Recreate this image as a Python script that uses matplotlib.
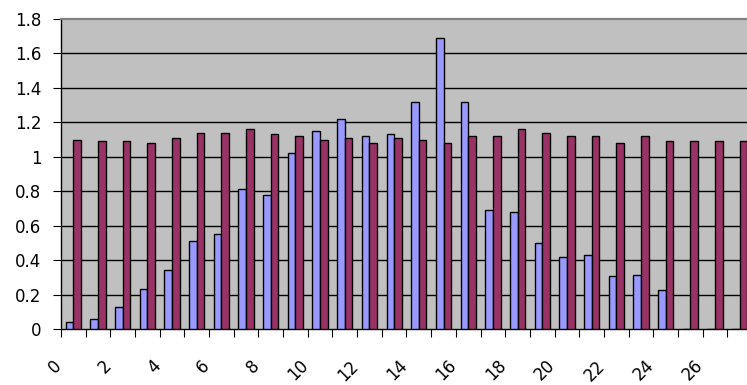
import numpy as np
import matplotlib.pyplot as plt

plt.rcParams['font.family'] = ['DejaVu Sans']

# values
blue_vals = [0.04, 0.06, 0.13, 0.23, 0.345, 0.51, 0.55, 0.81, 0.78, 1.02,
             1.15, 1.22, 1.12, 1.13, 1.32, 1.69, 1.32, 0.69, 0.68, 0.50,
             0.42, 0.43, 0.305, 0.315, 0.225, 0, 0, 0]
red_vals = [1.10, 1.09, 1.09, 1.08, 1.11, 1.14, 1.14, 1.16, 1.13, 1.12,
            1.10, 1.11, 1.08, 1.11, 1.10, 1.08, 1.12, 1.12, 1.16, 1.14,
            1.12, 1.12, 1.08, 1.12, 1.09, 1.09, 1.09, 1.09]
x_labels = [str(i) for i in range(0, 27, 2)]
y_ticks = [0, 0.2, 0.4, 0.6, 0.8, 1.0, 1.2, 1.4, 1.6, 1.8]
y_labels = ['0', '0.2', '0.4', '0.6', '0.8', '1', '1.2', '1.4', '1.6', '1.8']

W, H = 747, 385
fig = plt.figure(figsize=(W / 100, H / 100), dpi=100)
ax = fig.add_axes([61 / W, (H - 329) / H, 691 / W, 310 / H])
ax.set_facecolor('#C0C0C0')

n = len(red_vals)
x = np.arange(n)
bw = 0.31
ax.bar(x - bw / 2, blue_vals, bw, color='#9999FF', edgecolor='black', linewidth=1.0, zorder=3)
ax.bar(x + bw / 2, red_vals, bw, color='#993366', edgecolor='black', linewidth=1.0, zorder=3)

ax.set_xlim(-0.5, n - 0.5)
ax.set_ylim(0, 1.8)
ax.set_yticks(y_ticks)
ax.set_yticklabels(y_labels, fontsize=12)
for yv in y_ticks[1:-1]:
    ax.axhline(yv, color='black', linewidth=1.0, zorder=1)

# category boundary ticks
ax.set_xticks(np.arange(n) - 0.5)
ax.set_xticklabels([])
ax.tick_params(axis='x', length=6, width=0.8, color='black', direction='out')
ax.tick_params(axis='y', length=6, width=0.8, color='black', direction='out', pad=8)

for lab in x_labels:
    pos = int(lab) - 0.5
    ax.annotate(lab, xy=(pos, 0), xycoords='data', xytext=(-2, -34),
                textcoords='offset pixels', rotation=45, rotation_mode='anchor',
                ha='right', va='center', fontsize=12, annotation_clip=False)

ax.spines['right'].set_visible(False)
ax.spines['top'].set_color('#808080')
ax.spines['top'].set_linewidth(1.6)
ax.spines['left'].set_color('black')
ax.spines['bottom'].set_color('black')
ax.spines['left'].set_linewidth(1.0)
ax.spines['bottom'].set_linewidth(1.0)

fig.savefig('out.png', dpi=100)
